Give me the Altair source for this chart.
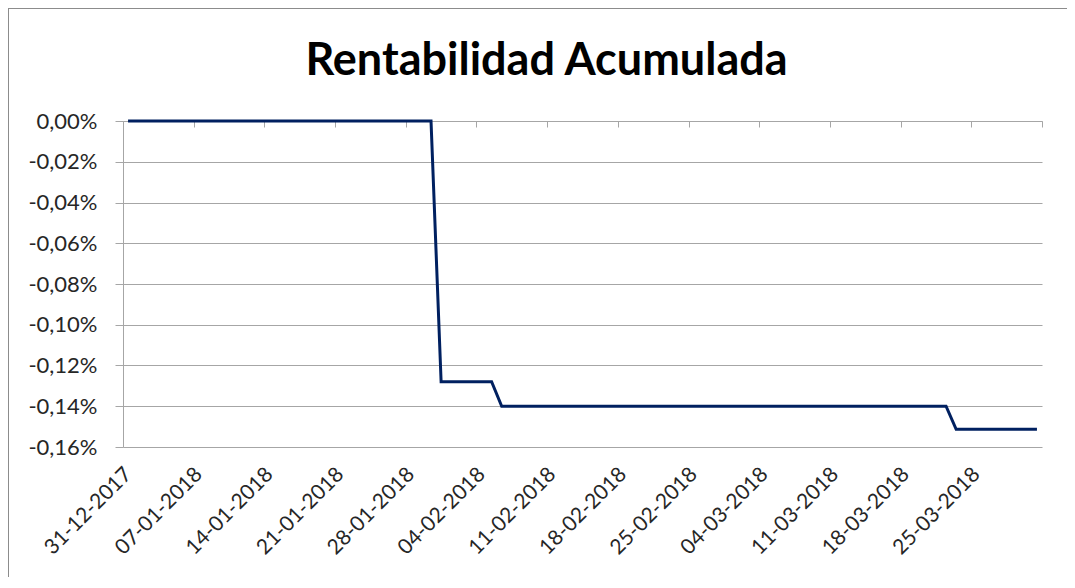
import altair as alt
import pandas as pd

# Categories: one point per day
fechas = pd.date_range("2017-12-31", "2018-03-31", freq="D").strftime("%Y-%m-%d").tolist()

# Cumulative return (fraction)
rentabilidad = [
    0.0, 0.0, 0.0, 0.0, 0.0, 0.0, 0.0,            # 31-12 .. 06-01
    0.0, 0.0, 0.0, 0.0, 0.0, 0.0, 0.0,            # 07-01 .. 13-01
    0.0, 0.0, 0.0, 0.0, 0.0, 0.0, 0.0,            # 14-01 .. 20-01
    0.0, 0.0, 0.0, 0.0, 0.0, 0.0, 0.0,            # 21-01 .. 27-01
    0.0, 0.0, 0.0,                                # 28-01 .. 30-01
    -0.00128, -0.00128, -0.00128, -0.00128, -0.00128, -0.00128,  # 31-01 .. 05-02
    -0.0014, -0.0014, -0.0014, -0.0014, -0.0014, -0.0014, -0.0014,  # 06-02 .. 12-02
    -0.0014, -0.0014, -0.0014, -0.0014, -0.0014, -0.0014, -0.0014,  # 13-02 .. 19-02
    -0.0014, -0.0014, -0.0014, -0.0014, -0.0014, -0.0014, -0.0014,  # 20-02 .. 26-02
    -0.0014, -0.0014, -0.0014, -0.0014, -0.0014, -0.0014, -0.0014,  # 27-02 .. 05-03
    -0.0014, -0.0014, -0.0014, -0.0014, -0.0014, -0.0014, -0.0014,  # 06-03 .. 12-03
    -0.0014, -0.0014, -0.0014, -0.0014, -0.0014, -0.0014, -0.0014,  # 13-03 .. 19-03
    -0.0014, -0.0014, -0.0014,                    # 20-03 .. 22-03
    -0.001513, -0.001513, -0.001513, -0.001513, -0.001513,  # 23-03 .. 27-03
    -0.001513, -0.001513, -0.001513, -0.001513,   # 28-03 .. 31-03
]

# Axis labels (weekly) and tick boundaries
etiquetas_x = ["2017-12-31", "2018-01-07", "2018-01-14", "2018-01-21", "2018-01-28",
               "2018-02-04", "2018-02-11", "2018-02-18", "2018-02-25", "2018-03-04",
               "2018-03-11", "2018-03-18", "2018-03-25"]
marcas_x = ["2017-12-30T12:00:00Z", "2018-01-06T12:00:00Z", "2018-01-13T12:00:00Z",
            "2018-01-20T12:00:00Z", "2018-01-27T12:00:00Z", "2018-02-03T12:00:00Z",
            "2018-02-10T12:00:00Z", "2018-02-17T12:00:00Z", "2018-02-24T12:00:00Z",
            "2018-03-03T12:00:00Z", "2018-03-10T12:00:00Z", "2018-03-17T12:00:00Z",
            "2018-03-24T12:00:00Z", "2018-03-31T12:00:00Z"]
dominio_x = ["2017-12-30T12:00:00Z", "2018-03-31T12:00:00Z"]
marcas_y = [0.0, -0.0002, -0.0004, -0.0006, -0.0008, -0.0010, -0.0012, -0.0014, -0.0016]

df = pd.DataFrame({"fecha": fechas, "rentabilidad": rentabilidad})

FONT = "Lato"
GRIS = "#a6a6a6"
TEXTO = "#262626"
W, H = 919, 326

x_scale = alt.Scale(type="utc", domain=dominio_x, nice=False)
y_scale = alt.Scale(domain=[-0.0016, 0.0], nice=False, zero=False)

y_label = "replace((datum.value < -0.0000001 ? '-' : '') + format(abs(datum.value), '.2%'), '.', ',')"
x_label = "utcFormat(datum.value, '%d-%m-%Y')"

base = alt.Chart(df)

linea = base.mark_line(color="#002060", strokeWidth=3).encode(
    x=alt.X("fecha:T", scale=x_scale,
            axis=alt.Axis(values=etiquetas_x, labelExpr=x_label,
                          labelAngle=-45, labelAlign="right", labelBaseline="middle",
                          labelFont=FONT, labelFontSize=21, labelColor=TEXTO,
                          labelPadding=24, domain=False, ticks=False, grid=False,
                          title=None, labelOverlap=False, labelFlush=False)),
    y=alt.Y("rentabilidad:Q", scale=y_scale,
            axis=alt.Axis(values=marcas_y, labelExpr=y_label, labelFont=FONT,
                          labelFontSize=22, labelColor=TEXTO, labelPadding=18,
                          tickSize=8, tickColor=GRIS, domainColor=GRIS,
                          gridColor=GRIS, gridWidth=1, title=None,
                          labelOverlap=False, labelFlush=False)),
)

marcas = base.mark_point(opacity=0).encode(
    x=alt.X("fecha:T", scale=x_scale,
            axis=alt.Axis(orient="bottom", offset=-H, values=marcas_x, labels=False,
                          tickSize=6, tickColor=GRIS, domainColor=GRIS, grid=False,
                          title=None)),
)

marco = alt.Chart(pd.DataFrame({"k": [0]})).mark_rect(
    filled=False, stroke="#8c8c8c", strokeWidth=2
).encode(x=alt.value(-115), x2=alt.value(1100), y=alt.value(-113), y2=alt.value(600))

chart = alt.layer(marco, linea, marcas).resolve_axis(x="independent").properties(
    width=W, height=H,
    title=alt.TitleParams("Rentabilidad Acumulada", font=FONT, fontSize=45,
                          fontWeight="bold", color="#000000", anchor="middle",
                          frame="group", dx=-36, dy=77, offset=0),
    autosize=alt.AutoSizeParams(type="none"),
    padding={"left": 115, "top": 113, "right": 25, "bottom": 130},
).configure(background="white").configure_view(stroke=None)

chart.save("out.html", embed_options={"renderer": "svg", "actions": False})
